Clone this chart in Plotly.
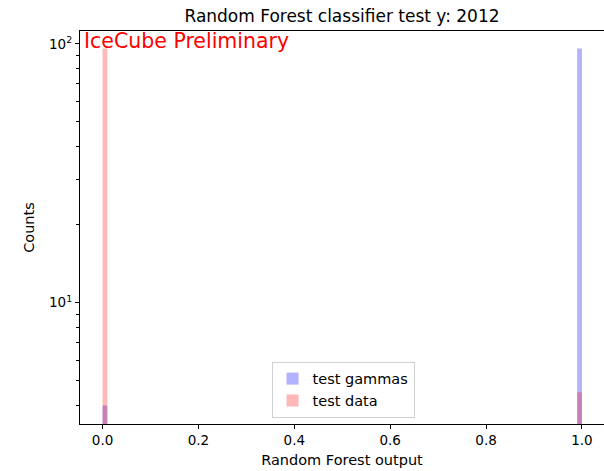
import plotly.graph_objects as go

# Histogram of classifier output (100 bins on [0, 1]); only non-empty bins listed
bin_width = 0.01
bin_left = [0.0, 0.99]
test_gammas = [4.0, 96.0]
test_data = [96.0, 4.5]

series_names = ["test gammas", "test data"]
x_ticks = [0.0, 0.2, 0.4, 0.6, 0.8, 1.0]
y_major = [10, 100]
y_major_text = ["10<sup>1</sup>", "10<sup>2</sup>"]
y_minor = [4, 5, 6, 7, 8, 9, 20, 30, 40, 50, 60, 70, 80, 90]

font = "DejaVu Sans"
bin_center = [b + bin_width / 2 for b in bin_left]

fig = go.Figure()
fig.add_trace(go.Bar(
    x=bin_center, y=test_gammas, width=bin_width, name=series_names[0],
    marker=dict(color="blue", line=dict(width=0)), opacity=0.3,
))
fig.add_trace(go.Bar(
    x=bin_center, y=test_data, width=bin_width, name=series_names[1],
    marker=dict(color="red", line=dict(width=0)), opacity=0.28,
))

fig.add_annotation(
    text="IceCube Preliminary", xref="paper", yref="paper",
    x=0.004, y=1.0, xanchor="left", yanchor="top", yshift=4, showarrow=False,
    font=dict(family=font, size=20.5, color="red"),
)

fig.update_layout(
    width=604, height=471,
    margin=dict(l=80, r=0, t=31, b=47),
    paper_bgcolor="white", plot_bgcolor="white",
    barmode="overlay",
    font=dict(family=font, size=13.5, color="black"),
    title=dict(
        text="Random Forest classifier test y: 2012",
        x=0.5, xref="paper", xanchor="center",
        y=1, yref="paper", yanchor="bottom", pad=dict(b=9),
        font=dict(family=font, size=17, color="black"),
    ),
    xaxis=dict(
        range=[-0.047, 1.046], tickvals=x_ticks, ticktext=[f"{v:.1f}" for v in x_ticks],
        showgrid=False, zeroline=False, showline=True, mirror=True,
        linecolor="black", linewidth=1.2, ticks="outside", ticklen=4, tickwidth=1,
        tickcolor="black",
        title=dict(text="Random Forest output", font=dict(size=14.5), standoff=7),
    ),
    yaxis=dict(
        type="log", range=[0.531, 2.0495],
        tickvals=y_major, ticktext=y_major_text,
        showgrid=False, zeroline=False, showline=True, mirror=False,
        linecolor="black", linewidth=1.2, ticks="outside", ticklen=4, tickwidth=1,
        tickcolor="black",
        minor=dict(tickvals=y_minor, ticks="outside", ticklen=2.5, tickwidth=0.8,
                   tickcolor="black", showgrid=False),
        title=dict(text="Counts", font=dict(size=14.5), standoff=10),
    ),
    legend=dict(
        x=0.502, y=0.016, xanchor="center", yanchor="bottom",
        bgcolor="rgba(255,255,255,0.8)", bordercolor="#d0d0d0", borderwidth=1,
        font=dict(family=font, size=14.5), itemwidth=30,
    ),
)

fig.write_html("out.html")
